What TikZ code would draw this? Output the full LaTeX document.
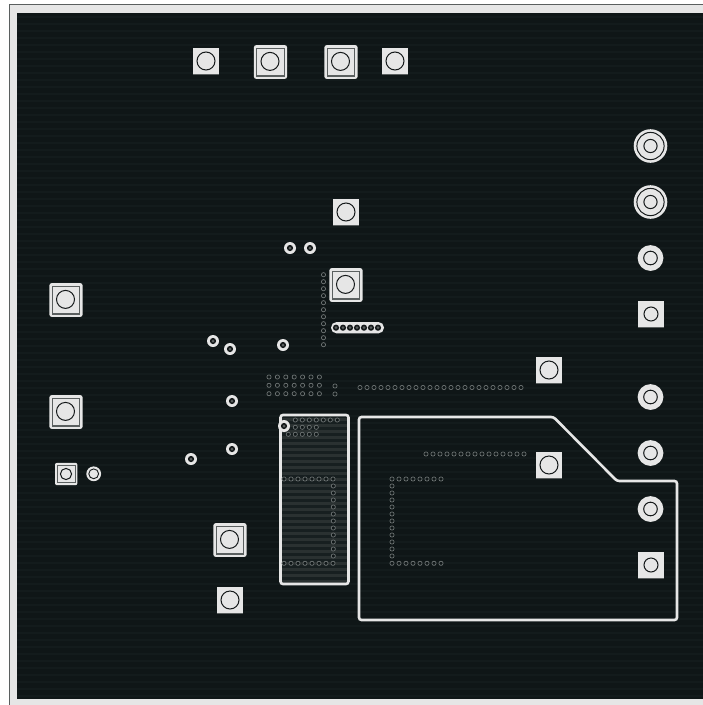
\documentclass[tikz,border=0pt]{standalone}
\definecolor{board}{HTML}{0F1617}
\definecolor{stripe}{HTML}{131B1C}
\definecolor{padc}{HTML}{E6E6E6}
\definecolor{frame}{HTML}{5A5F5F}
\definecolor{ink}{HTML}{15191A}
\definecolor{viac}{HTML}{6E7474}
\definecolor{bandA}{HTML}{2A3131}
\definecolor{bandB}{HTML}{171F20}
\tikzset{x=1pt,y=-1pt,
  pad/.style={fill=padc,draw=none},
  hole/.style={draw=ink,line width=1pt,fill=padc},
  padframe/.style={draw=frame,line width=1pt,fill=padc},
  microvia/.style={draw=viac,line width=0.7pt,fill=board},
  viaouter/.style={fill=padc,draw=none},
  viainner/.style={fill=ink,draw=none},
  viacore/.style={fill=frame,draw=none},
  outline/.style={draw=padc,line width=2.6pt,rounded corners=2.5pt}}
\newcommand{\plainpad}[3]{% x y holeradius
  \fill[pad] (#1-13.3,#2-13.3) rectangle (#1+13.3,#2+13.3);
  \draw[frame,line width=0.7pt] (#1-13.3,#2+13.3) -- (#1+13.3,#2+13.3);
  \draw[hole] (#1,#2) circle[radius=#3];}
\newcommand{\largepad}[2]{%
  \fill[pad,rounded corners=2.5pt] (#1-16.7,#2-16.9) rectangle (#1+16.7,#2+16.9);
  \draw[padframe] (#1-13.8,#2-14) rectangle (#1+13.8,#2+14);
  \draw[frame,line width=1.6pt] (#1-13.8,#2+13.6) -- (#1+13.8,#2+13.6);
  \draw[hole] (#1-0.5,#2-0.6) circle[radius=9];}
\newcommand{\roundpad}[2]{%
  \fill[pad] (#1,#2) circle[radius=12.9];
  \draw[hole] (#1,#2) circle[radius=6.8];}
\newcommand{\ringpad}[2]{%
  \fill[pad] (#1,#2) circle[radius=16.8];
  \draw[draw=ink,line width=1pt] (#1,#2) circle[radius=13.6];
  \draw[hole] (#1,#2) circle[radius=6.6];}
\newcommand{\bigvia}[2]{%
  \fill[viaouter] (#1,#2) circle[radius=6];
  \fill[viainner] (#1,#2) circle[radius=3.1];
  \fill[viacore] (#1,#2) circle[radius=1.5];}
\newcommand{\mv}[2]{\draw[microvia] (#1,#2) circle[radius=2.1];}
\begin{document}
\begin{tikzpicture}
\useasboundingbox (0,0) rectangle (703,705);
\fill[white] (0,0) rectangle (703,705);
\fill[padc] (9.5,5) rectangle (703,705);
\draw[frame,line width=1pt] (9.5,705) -- (9.5,4.8) -- (703,4.8);
\fill[board] (17,13) rectangle (703,699);
\foreach \y in {17,24,...,696} \draw[stripe,line width=1.2pt] (17,\y) -- (703,\y);

% main outline
\draw[outline] (359,417) -- (553.5,417) -- (617,481) -- (677,481) -- (677,620) -- (359,620) -- cycle;

% IC pad
\fill[bandB] (280.5,415) rectangle (348.5,584);
\foreach \y in {418,424,...,582} \fill[bandA] (281,\y) rectangle (348,\y+3);
\draw[outline] (280.5,415) rectangle (348.5,584);

% pads
\plainpad{206}{61}{9}
\largepad{270.5}{62}
\largepad{341}{62}
\plainpad{395}{61}{9}
\plainpad{346}{212}{9}
\largepad{346}{285}
\largepad{66}{300}
\largepad{66}{412}
\largepad{230}{540}
\plainpad{230}{600}{9}
\plainpad{549}{370}{9}
\plainpad{549}{465}{9}
\plainpad{651}{314}{7}
\plainpad{651}{565}{7}
\ringpad{650.5}{146}
\ringpad{650.5}{202}
\roundpad{650.5}{258}
\roundpad{650.5}{397}
\roundpad{650.5}{453}
\roundpad{650.5}{509}

% small pad and ring
\fill[pad,rounded corners=2pt] (55,462.8) rectangle (77.4,485.2);
\draw[padframe,line width=0.8pt] (57.5,465.3) rectangle (74.9,482.7);
\draw[hole] (66,474) circle[radius=5.6];
\fill[pad] (93.7,473.8) circle[radius=7.4];
\draw[draw=ink,line width=0.9pt,fill=padc] (93.7,473.8) circle[radius=4.9];

% large vias
\foreach \x/\y in {290/248,310/248,283/345,213/341,230/349,232/401,232/449,191/459,284/426}
  {\bigvia{\x}{\y}}

% via chain
\fill[pad,rounded corners=5.6pt] (331,322) rectangle (384,333.4);
\foreach \x in {336,343,...,378} {
  \fill[viainner] (\x,327.7) circle[radius=3.1];
  \fill[viacore] (\x,327.7) circle[radius=1.5];}

% micro vias
\foreach \y in {274.7,281.7,...,345} {\mv{323.5}{\y}}
\foreach \y in {377,385.3,393.7}
  \foreach \x in {269,277.4,285.8,294.2,302.6,311,319.4} {\mv{\x}{\y}}
\mv{335}{386}
\mv{335}{394}
\foreach \x in {360,367,...,522} {\mv{\x}{387.5}}
\foreach \x in {426,433,...,525} {\mv{\x}{454}}
\foreach \x in {392,399,...,442} {\mv{\x}{479}\mv{\x}{563.3}}
\foreach \y in {486,493,...,557} {\mv{392}{\y}}
\foreach \x in {295.3,302.3,...,338} {\mv{\x}{420}}
\foreach \x in {295.3,302.3,309.3,316.3} {\mv{\x}{427.3}}
\foreach \x in {288.3,295.3,302.3,309.3,316.3} {\mv{\x}{434.3}}
\foreach \x in {284,291,...,334} {\mv{\x}{479}\mv{\x}{563.3}}
\foreach \y in {486,493,...,557} {\mv{333.3}{\y}}
\end{tikzpicture}
\end{document}
